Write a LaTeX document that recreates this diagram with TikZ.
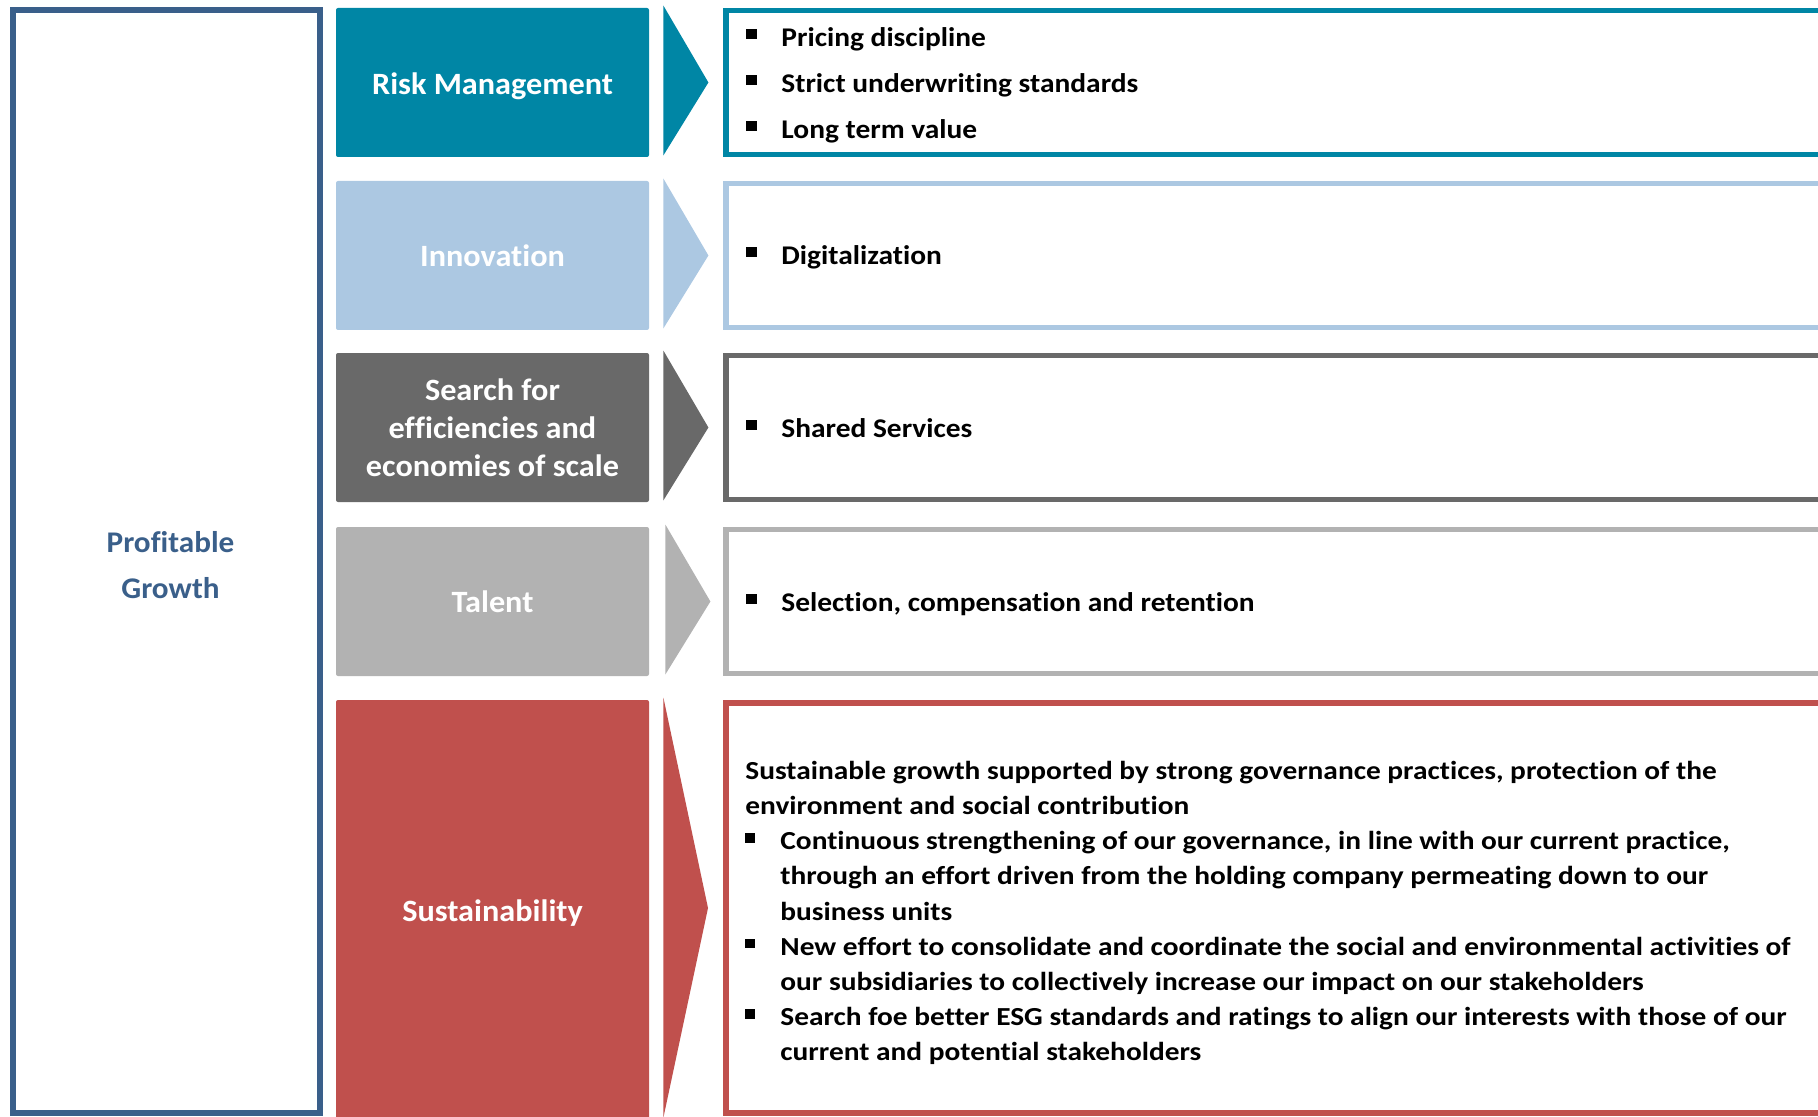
\documentclass[tikz,border=0pt]{standalone}
\usepackage{fontspec}
\setmainfont{Carlito}
\newfontfamily\titlefont[FakeStretch=1.04,Ligatures=NoCommon]{Carlito}
\newfontfamily\bodyfont[FakeStretch=1.09,Ligatures=NoCommon]{Carlito}
\newfontfamily\susfont[FakeStretch=1.13,Ligatures=NoCommon]{Carlito}
\usetikzlibrary{calc}

\definecolor{riskteal}{RGB}{0,134,165}
\definecolor{innoblue}{RGB}{172,200,226}
\definecolor{effgrey}{RGB}{105,105,105}
\definecolor{talgrey}{RGB}{178,178,178}
\definecolor{susred}{RGB}{192,80,77}
\definecolor{growblue}{RGB}{58,95,138}

\newcommand{\bul}{\makebox[17.5pt][l]{\raisebox{0.27em}{\rule{0.38em}{0.37em}}}}
\newcommand{\ind}{\hspace*{17.5pt}}
\newcommand{\lowr}[1]{\raisebox{-1.8pt}[\height][\depth]{#1}}

\begin{document}
\begin{tikzpicture}
	[
	x=0.5pt, y=-0.5pt,
	tbox/.style={fill=#1, text=white, minimum width=156.5pt, minimum height=74.5pt, inner sep=0pt, rounded corners=1pt, align=center, font=\titlefont\bfseries\fontsize{15.5}{19}\selectfont},
	cbox/.style={draw=#1, line width=2.75pt, minimum width=562pt, minimum height=72pt, inner sep=0pt},
	ctext/.style={anchor=west, align=left, inner sep=0pt, font=\bodyfont\bfseries\fontsize{13.5}{23}\selectfont}
	]
	\clip (0,0) rectangle (1818,1117);
	
	% Left column
	\node[draw=growblue, line width=3pt, minimum width=153.5pt, minimum height=551.5pt, text=growblue, align=center, font=\titlefont\bfseries\fontsize{15}{23.2}\selectfont](pg) at (166.5,561.5){\hspace*{4pt}\lowr{Profitable}\\\hspace*{4pt}\lowr{Growth}};
	
	% From up to down
	\node[tbox=riskteal](t1) at (492.5,82.5){\lowr{Risk Management}};
	\node[tbox=innoblue](t2) at (492.5,255.5){Innovation};
	\node[tbox=effgrey](t3) at (492.5,427.5){Search for\\efficiencies and\\economies of scale};
	\node[tbox=talgrey](t4) at (492.5,601.5){Talent};
	\node[tbox=susred, minimum height=213pt](t5) at (492.5,913){Sustainability};
	
	\node[cbox=riskteal](c1) at (1288,82.5){};
	\node[cbox=innoblue](c2) at (1288,255.5){};
	\node[cbox=effgrey](c3) at (1288,427.5){};
	\node[cbox=talgrey](c4) at (1288,601.5){};
	\node[cbox=susred, minimum height=205pt](c5) at (1288,908){};
	
	% Texts of the boxes
	\node[ctext](l1) at (746,85){\bul Pricing discipline\\ \bul Strict underwriting standards\\ \bul Long term value};
	\node[ctext](l2) at (746,257){\bul Digitalization};
	\node[ctext](l3) at (746,428){\bul Shared Services};
	\node[ctext](l4) at (746,604){\bul Selection, compensation and retention};
	\node[ctext, font=\susfont\bfseries\fontsize{13}{17.6}\selectfont](l5) at (745,913){Sustainable growth supported by strong governance practices, protection of the\\ environment and social contribution\\ \bul Continuous strengthening of our governance, in line with our current practice,\\ \ind through an effort driven from the holding company permeating down to our\\ \ind business units\\ \bul New effort to consolidate and coordinate the social and environmental activities of\\ \ind our subsidiaries to collectively increase our impact on our stakeholders\\ \bul Search foe better ESG standards and ratings to align our interests with those of our\\ \ind current and potential stakeholders};
	
	% Chevrons
	\fill[riskteal] ($(t1.north east)+(14,-2)$) -- ($(t1.east)+(59,0)$) -- ($(t1.south east)+(14,-2)$) -- cycle;
	\fill[innoblue] ($(t2.north east)+(14,-2)$) -- ($(t2.east)+(59,0)$) -- ($(t2.south east)+(14,-2)$) -- cycle;
	\fill[effgrey] ($(t3.north east)+(14,-2)$) -- ($(t3.east)+(59,0)$) -- ($(t3.south east)+(14,-2)$) -- cycle;
	\fill[talgrey] ($(t4.north east)+(16,-2)$) -- ($(t4.east)+(61,0)$) -- ($(t4.south east)+(16,-2)$) -- cycle;
	\fill[susred] ($(t5.north east)+(14,-2)$) -- (708,908) -- ($(t5.north east)+(14,418)$) -- cycle;
\end{tikzpicture}
\end{document}
